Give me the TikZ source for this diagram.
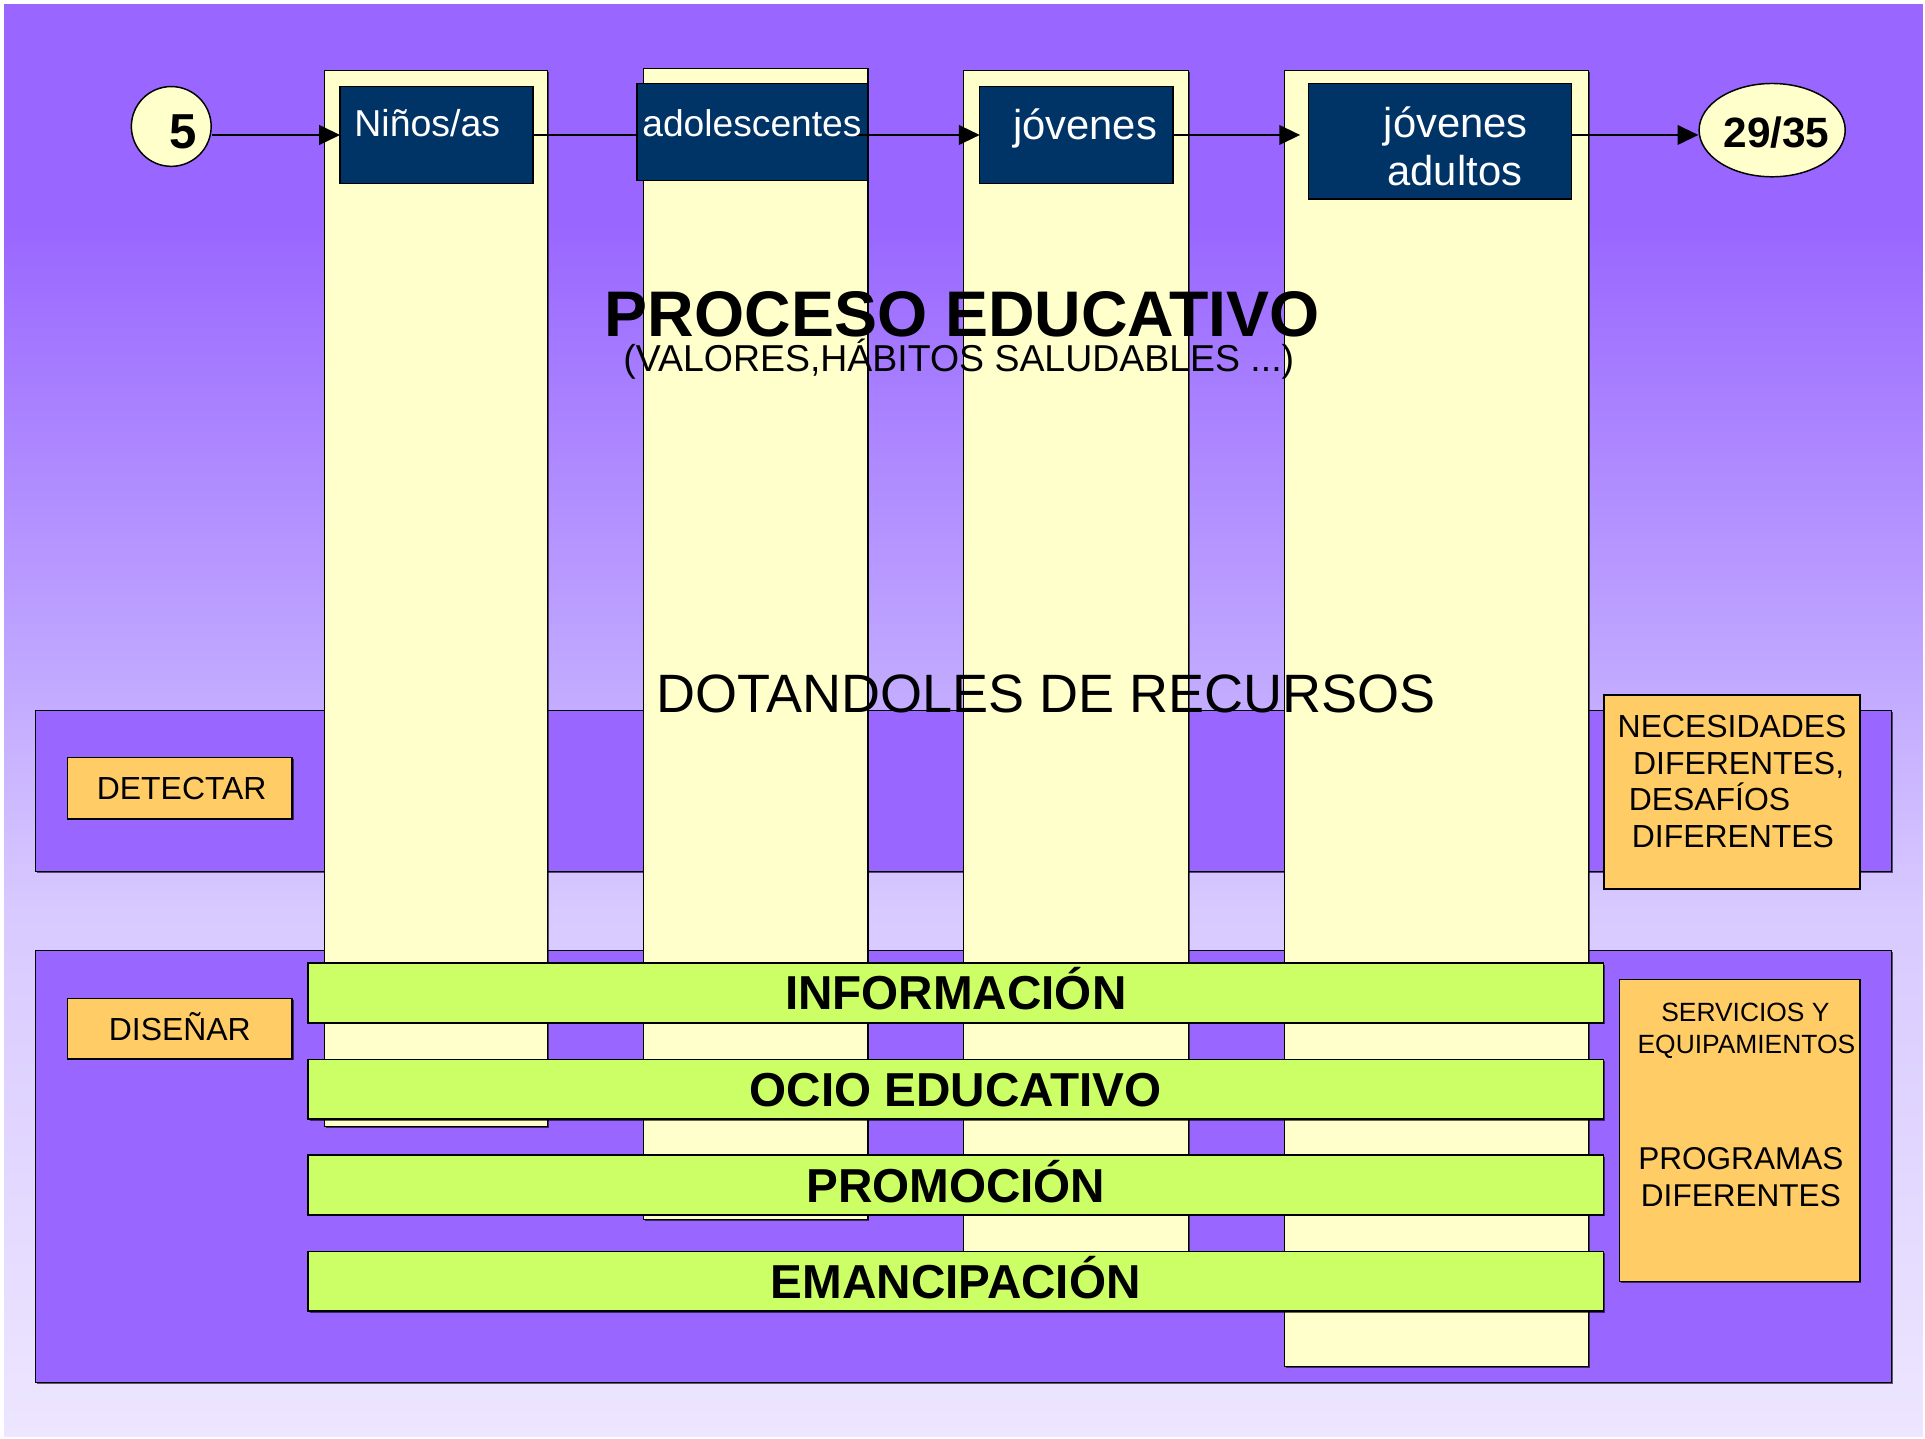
\documentclass[tikz,border=0pt]{standalone}
\usepackage{fontspec}
\setmainfont{Liberation Sans}
\usetikzlibrary{arrows.meta,shadows,shapes.geometric}
\definecolor{purp}{HTML}{9966FF}
\definecolor{ylw}{HTML}{FFFFCC}
\definecolor{navy}{HTML}{003366}
\definecolor{orng}{HTML}{FFCC66}
\definecolor{grn}{HTML}{CCFF66}
\definecolor{bgA}{HTML}{9966FF}
\definecolor{bgB}{HTML}{C2AAFF}
\definecolor{bgC}{HTML}{D8C9FF}
\definecolor{bgD}{HTML}{EDE6FF}
\newcommand{\myfs}[1]{\fontsize{#1}{#1}\selectfont}
\begin{document}
\begin{tikzpicture}[x=1pt,y=-1pt,
  shd/.style={drop shadow={shadow xshift=1.2pt,shadow yshift=-1.2pt,fill=black,opacity=0.6}},
  box/.style={rectangle,anchor=north west,inner sep=0pt,outer sep=0pt},
  band/.style={box,draw=black,line width=1pt,fill=purp,shd},
  colm/.style={box,draw=black,line width=0.9pt,fill=ylw,shd},
  navybox/.style={box,draw=black,line width=1.2pt,fill=navy},
  wtxt/.style={text=white,inner sep=0pt,anchor=base west},
  obox/.style={box,draw=black,line width=1.2pt,fill=orng,shd},
  gbar/.style={box,draw=black,line width=1.4pt,fill=grn,shd,font=\bfseries\myfs{38.8},text height=27.8pt,text depth=0pt},
  txt/.style={inner sep=0pt},
  conn/.style={line width=1.6pt,draw=black},
  arr/.style={conn,-{Triangle[length=17pt,width=16pt]}},
  oval/.style={ellipse,draw=black,line width=1.2pt,fill=ylw,inner sep=0pt}
]
\useasboundingbox (0,0) rectangle (1568,1172);
% background
\fill[white] (0,0) rectangle (1568,1172);
\fill[bgA] (3.5,3) rectangle (1566,181);
\shade[top color=bgA,bottom color=bgB] (3.5,180) rectangle (1566,561);
\shade[top color=bgB,bottom color=bgC] (3.5,560) rectangle (1566,741);
\shade[top color=bgC,bottom color=bgD] (3.5,740) rectangle (1566,1170);
% bands
\node[band,minimum width=1512pt,minimum height=131pt] (detband) at (29,579) {};
\node[band,minimum width=1512pt,minimum height=352pt] (disband) at (29,774) {};
% columns
\node[colm,minimum width=182pt,minimum height=860pt] (col1) at (264,57.5) {};
\node[colm,minimum width=182.5pt,minimum height=938pt] (col2) at (524.5,55.6) {};
\node[colm,minimum width=183pt,minimum height=980pt] (col3) at (785,57.5) {};
\node[colm,minimum width=248pt,minimum height=1055.5pt] (col4) at (1046,57.5) {};
% navy boxes
\node[navybox,minimum width=157pt,minimum height=78.7pt] (ninos) at (277,70.6) {};
\node[navybox,minimum width=188pt,minimum height=79.3pt] (adol) at (519,67.9) {};
\node[navybox,minimum width=157.5pt,minimum height=78.7pt] (jov) at (798,70.6) {};
\node[navybox,minimum width=214pt,minimum height=94pt] (jovad) at (1066,68) {};
% circles
\node[oval,minimum width=65pt,minimum height=65pt] (c5) at (139.5,103) {};
\node[oval,minimum width=119pt,minimum height=76pt] (c29) at (1443.5,106) {};
% connectors
\draw[arr] (c5.east |- ninos.west) -- (ninos.west);
\draw[conn] (ninos.east) -- (adol.west |- ninos.east);
\draw[arr,shorten <=-9pt] (adol.east |- jov.west) -- (jov.west);
\draw[arr,shorten >=7pt] (jov.east) -- (jovad.west |- jov.east);
\draw[arr] (jovad.east |- jov.east) -- (c29.west |- jov.east);
% texts in navy boxes
\node[wtxt,font=\myfs{30.5}] (tninos) at (288.5,111) {Niños/as};
\node[wtxt,font=\myfs{30.3}] (tadol) at (523,111) {adolescentes};
\node[wtxt,font=\myfs{34}] (tjov) at (825,114) {jóvenes};
\node[wtxt,font=\myfs{34}] (tjova) at (1127,112) {jóvenes};
\node[wtxt,font=\myfs{34}] (tjovb) at (1130,151) {adultos};
\node[txt,font=\bfseries\myfs{40},anchor=base] (t5) at (149,121) {5};
\node[txt,font=\bfseries\myfs{34.5},anchor=base] (t29) at (1447,120) {29/35};
% titles
\node[txt,font=\bfseries\myfs{52.5},anchor=base] (title) at (784,274) {PROCESO EDUCATIVO};
\node[txt,font=\myfs{30.5},anchor=base] (sub) at (781,303) {(VALORES,HÁBITOS SALUDABLES ...)};
\node[txt,font=\myfs{44},anchor=base west] (dot) at (534.5,580) {DOTANDOLES DE RECURSOS};
% green bars
\node[gbar,minimum width=1055pt,minimum height=48.5pt] (inf) at (251,784.5) {INFORMACIÓN};
\node[gbar,minimum width=1055pt,minimum height=48.5pt] (ocio) at (251,863) {OCIO EDUCATIVO};
\node[gbar,minimum width=1055pt,minimum height=48.5pt] (prom) at (251,941) {PROMOCIÓN};
\node[gbar,minimum width=1055pt,minimum height=48.5pt] (eman) at (251,1019.5) {EMANCIPACIÓN};
% orange boxes
\node[obox,minimum width=183pt,minimum height=50pt,font=\myfs{26},text height=18.6pt,text depth=0pt] (det) at (55,617) {\hspace{3pt}DETECTAR};
\node[obox,minimum width=183pt,minimum height=49pt,font=\myfs{26},text height=18.6pt,text depth=0pt] (dis) at (55,813.5) {DISEÑAR};
\node[obox,minimum width=208.5pt,minimum height=158pt] (nec) at (1306.5,566) {};
\node[obox,minimum width=196pt,minimum height=246pt] (serv) at (1319,798) {};
\node[txt,font=\myfs{26},anchor=base west] (nec1) at (1317.5,601) {NECESIDADES};
\node[txt,font=\myfs{26},anchor=base west] (nec2) at (1330,631) {DIFERENTES,};
\node[txt,font=\myfs{26},anchor=base west] (nec3) at (1326.5,660) {DESAFÍOS};
\node[txt,font=\myfs{26},anchor=base west] (nec4) at (1329,690) {DIFERENTES};
\node[txt,font=\myfs{21.5},anchor=base] (s1) at (1421.7,832) {SERVICIOS Y};
\node[txt,font=\myfs{21.5},anchor=base] (s2) at (1422.5,858) {EQUIPAMIENTOS};
\node[txt,font=\myfs{25.7},anchor=base] (s3) at (1418,953) {PROGRAMAS};
\node[txt,font=\myfs{25.7},anchor=base] (s4) at (1418,982.6) {DIFERENTES};
\end{tikzpicture}
\end{document}
